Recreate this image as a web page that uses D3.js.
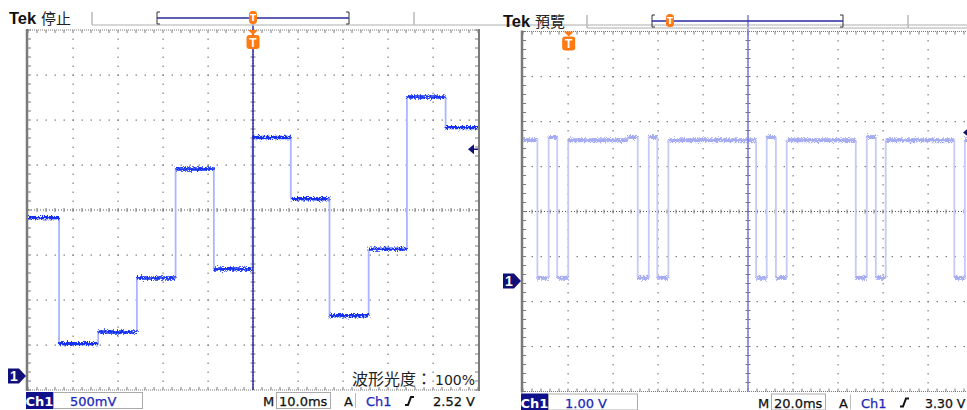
<!DOCTYPE html>
<html><head><meta charset="utf-8">
<script src="https://cdn.jsdelivr.net/npm/d3@7"></script>
<style>
html,body{margin:0;padding:0;background:#fff;overflow:hidden}
svg{display:block}
</style></head>
<body>
<svg id="c" width="967" height="410"></svg>
<script>
// ---------------- DATA ----------------
// Left screen: staircase signal (Ch1 500mV/div, 10.0ms/div), time in ms from screen centre
const leftEdgesMs  = [-43.1, -34.4, -25.8, -17.2, -8.7, -0.1, 8.4, 17.0, 25.7, 34.2, 42.8];
const leftLevelsV  = [1.76, 0.36, 0.49, 1.09, 2.30, 1.19, 2.65, 1.97, 0.67, 1.41, 3.10, 2.76];
const leftTrigV = 2.52;
const leftTrigMs = 0;
// Right screen: digital bursts (Ch1 1.00V/div, 20.0ms/div)
const rightEdgesMs = [-93.6, -88.6, -84.8, -79.9, -53.5, -49.0, -44.1, -40.3, -35.4, 3.6, 8.3, 12.4, 17.2, 47.9, 52.8, 56.8, 61.2, 91.7, 96.4];
const rightLevelsV = [3.13, 0.07, 3.20, 0.07, 3.13, 3.20, 0.07, 3.20, 0.07, 3.13, 0.07, 3.20, 0.07, 3.13, 0.07, 3.20, 0.07, 3.13, 0.07, 3.13];
const rightTrigV = 3.30;
const rightTrigMs = -79.7;
// Readouts
const leftStatus  = {title:"停止", volts:"500mV", time:"10.0ms", trig:"2.52 V"};
const rightStatus = {title:"預覽", volts:"1.00 V", time:"20.0ms", trig:"3.30 V"};
const intensityLabel = "波形光度：", intensityValue = "100%";

// ---------------- DRAW ----------------
const svg = d3.select("#c");
const defs = svg.append("defs");
const flt = defs.append("filter").attr("id","noise").attr("filterUnits","userSpaceOnUse")
  .attr("x",0).attr("y",0).attr("width",967).attr("height",410);
flt.append("feTurbulence").attr("type","fractalNoise").attr("baseFrequency","1.3 0.8").attr("numOctaves",2).attr("seed",5).attr("result","t");
flt.append("feDisplacementMap").attr("in","SourceGraphic").attr("in2","t").attr("scale",6).attr("xChannelSelector","R").attr("yChannelSelector","G");

const CJK = "'Noto Sans CJK TC','Noto Sans CJK SC',sans-serif";
const UI = "'DejaVu Sans',sans-serif";

function panel(o){
  const g = svg.append("g");
  const x = d3.scaleLinear().domain([-5*o.tdiv, 5*o.tdiv]).range([o.x0, o.x1]);
  const y = d3.scaleLinear().domain([(-4 - o.gnd)*o.vdiv, (4 - o.gnd)*o.vdiv]).range([o.y1, o.y0]);
  const cid = "clip"+o.id;
  defs.append("clipPath").attr("id",cid).append("rect").attr("x",o.x0).attr("y",o.y0).attr("width",o.x1-o.x0).attr("height",o.y1-o.y0);
  const gx = d3.range(-5,6).map(i=>x(i*o.tdiv));
  const gy = d3.range(-4,5).map(i=>y((i - o.gnd)*o.vdiv));
  const step = (o.x1-o.x0)/50;
  const dots = g.append("g").attr("fill","#808080");
  gx.slice(1,-1).forEach((px,i)=>{ if(i===4) return;
    d3.range(1,40).forEach(k=>dots.append("rect").attr("x",px-0.5).attr("y",o.y0+k*step-0.5).attr("width",1.2).attr("height",1.5)); });
  gy.slice(1,-1).forEach((py,i)=>{ if(i===3) return;
    d3.range(1,50).forEach(k=>dots.append("rect").attr("x",o.x0+k*step-0.5).attr("y",py-0.5).attr("width",1.5).attr("height",1.2)); });
  const cx = x(0), cy = gy[4];
  g.append("line").attr("x1",o.x0).attr("x2",o.x1).attr("y1",cy).attr("y2",cy).attr("stroke","#555").attr("stroke-dasharray","1,2");
  d3.range(1,50).forEach(k=>g.append("line").attr("x1",o.x0+k*step).attr("x2",o.x0+k*step).attr("y1",cy-2).attr("y2",cy+2).attr("stroke","#777"));
  g.append("line").attr("x1",cx).attr("x2",cx).attr("y1",o.y0).attr("y2",o.y1).attr("stroke","#666").attr("stroke-dasharray","1,2");
  d3.range(1,40).forEach(k=>g.append("line").attr("x1",cx-2.5).attr("x2",cx+2.5).attr("y1",o.y0+k*step).attr("y2",o.y0+k*step).attr("stroke","#777"));
  const fr = g.append("g").attr("stroke","#7a7a7a");
  fr.append("line").attr("x1",o.x0).attr("x2",o.x1).attr("y1",o.y0).attr("y2",o.y0).attr("stroke-dasharray","1,1");
  fr.append("line").attr("x1",o.x0).attr("x2",o.x1).attr("y1",o.y1).attr("y2",o.y1).attr("stroke-dasharray","1,1");
  d3.range(0,51).forEach(k=>{const px=o.x0+k*step;
    fr.append("line").attr("x1",px).attr("x2",px).attr("y1",o.y0).attr("y2",o.y0+3);
    fr.append("line").attr("x1",px).attr("x2",px).attr("y1",o.y1).attr("y2",o.y1-3);});
  d3.range(0,41).forEach(k=>{const py=o.y0+k*step;
    fr.append("line").attr("x1",o.x0).attr("x2",o.x0+3).attr("y1",py).attr("y2",py);
    fr.append("line").attr("x1",o.x1).attr("x2",o.x1-3).attr("y1",py).attr("y2",py);});
  fr.append("line").attr("x1",o.x0-1).attr("x2",o.x0-1).attr("y1",o.y0-1).attr("y2",o.y1+1).attr("stroke-width",2.5);
  fr.append("line").attr("x1",o.x1+1).attr("x2",o.x1+1).attr("y1",o.y0-1).attr("y2",o.y1+1).attr("stroke-width",2);

  // trace
  const tg = g.append("g").attr("clip-path",`url(#${cid})`);
  const bounds = [-5*o.tdiv, ...o.edges, 5*o.tdiv];
  tg.selectAll("line.edge").data(o.edges).join("line").attr("class","edge")
    .attr("x1",d=>x(d)).attr("x2",d=>x(d))
    .attr("y1",(d,i)=>y(o.levels[i])).attr("y2",(d,i)=>y(o.levels[i+1]))
    .attr("stroke",o.edgeColor).attr("stroke-width",1.8);
  const lv = tg.append("g").attr("filter","url(#noise)");
  lv.selectAll("line.h").data(o.levels).join("line").attr("class","h")
    .attr("x1",(d,i)=>x(bounds[i])).attr("x2",(d,i)=>x(bounds[i+1]))
    .attr("y1",d=>y(d)).attr("y2",d=>y(d))
    .attr("stroke",o.levelColor).attr("stroke-width",o.lw);

  g.append("line").attr("x1",cx).attr("x2",cx).attr("y1",o.hy-12).attr("y2",o.y1).attr("stroke",o.posColor).attr("stroke-width",1.4);

  // header
  const h = svg.append("g");
  h.append("text").attr("x",o.tekX).attr("y",o.hy).attr("font-family","'Liberation Sans',Arial,sans-serif").attr("font-weight","bold").attr("font-size",16.5).attr("fill","#111").text("Tek");
  h.append("text").attr("x",o.tekX+32).attr("y",o.hy).attr("font-family",CJK).attr("font-size",15).attr("fill","#222").text(o.status.title);
  h.append("line").attr("x1",o.hl0).attr("x2",967).attr("y1",o.hy+1).attr("y2",o.hy+1).attr("stroke","#c8c8c8").attr("stroke-width",1.5);
  [o.hl0,o.hl1].forEach(px=>h.append("line").attr("x1",px).attr("x2",px).attr("y1",o.hy-12).attr("y2",o.hy+1).attr("stroke","#b8b8b8").attr("stroke-width",1.5));
  h.append("path").attr("d",`M${o.b0+3},${o.hy-12}H${o.b0}V${o.hy}H${o.b0+3}M${o.b1-3},${o.hy-12}H${o.b1}V${o.hy}H${o.b1-3}`).attr("fill","none").attr("stroke","#333").attr("stroke-width",1);
  h.append("line").attr("x1",o.b0).attr("x2",o.b1).attr("y1",o.hy-6).attr("y2",o.hy-6).attr("stroke","#2a2aa0").attr("stroke-width",1.4);
  h.append("rect").attr("x",o.u-4).attr("y",o.hy-13).attr("width",8).attr("height",13).attr("rx",3.5).attr("fill","#ff7a12");
  h.append("text").attr("x",o.u).attr("y",o.hy-3).attr("text-anchor","middle").attr("font-family",UI).attr("font-weight","bold").attr("font-size",9).attr("fill","#fff").text("T");
  const tx = x(o.trigMs), ty = o.y0;
  h.append("path").attr("d",`M${tx-5},${ty}H${tx+5}L${tx},${ty+5}Z`).attr("fill","#ff7a12");
  h.append("rect").attr("x",tx-6.5).attr("y",ty+5).attr("width",13).attr("height",14).attr("rx",3).attr("fill","#ff7a12");
  h.append("text").attr("x",tx).attr("y",ty+16.5).attr("text-anchor","middle").attr("font-family","'Liberation Sans',sans-serif").attr("font-weight","bold").attr("font-size",12).attr("fill","#fff").text("T");

  const gyp = y(0), gxp = o.x0-2;
  h.append("path").attr("d",`M${gxp-18},${gyp-7.5}H${gxp-7}L${gxp},${gyp}L${gxp-7},${gyp+7.5}H${gxp-18}Z`).attr("fill","#101078");
  h.append("text").attr("x",gxp-12).attr("y",gyp+5).attr("text-anchor","middle").attr("font-family","'Liberation Sans',sans-serif").attr("font-weight","bold").attr("font-size",14).attr("fill","#fff").text("1");
  const tly = y(o.trigV), tlx = o.x1-10;
  h.append("path").attr("d",`M${tlx},${tly}L${tlx+6},${tly-5}V${tly+5}Z`).attr("fill","#101078");
  h.append("line").attr("x1",tlx+5).attr("x2",o.x1).attr("y1",tly).attr("y2",tly).attr("stroke","#101078").attr("stroke-width",1.5);

  const sy = o.y1 + 16, sb = svg.append("g").attr("font-family",UI).attr("font-size",13).attr("stroke-width",0.25);
  sb.append("rect").attr("x",o.x0-2).attr("y",o.y1+2).attr("width",27).attr("height",17).attr("fill","#10108a");
  sb.append("text").attr("x",o.x0+11.5).attr("y",sy).attr("text-anchor","middle").attr("font-weight","bold").attr("fill","#fff").text("Ch1");
  sb.append("rect").attr("x",o.x0+25.5).attr("y",o.y1+2.5).attr("width",89).attr("height",16).attr("fill","#fff").attr("stroke","#aaa").attr("stroke-width",1);
  sb.append("text").attr("x",o.x0+42).attr("y",sy).attr("fill","#1c28b8").attr("stroke","#1c28b8").text(o.status.volts);
  sb.append("text").attr("x",o.x0+235).attr("y",sy).attr("fill","#111").attr("stroke","#111").text("M");
  sb.append("rect").attr("x",o.x0+248.5).attr("y",o.y1+2.5).attr("width",54).attr("height",16).attr("fill","#fff").attr("stroke","#aaa").attr("stroke-width",1);
  sb.append("text").attr("x",o.x0+251).attr("y",sy).attr("fill","#111").attr("stroke","#111").text(o.status.time);
  sb.append("text").attr("x",o.x0+316).attr("y",sy).attr("fill","#111").attr("stroke","#111").text("A");
  sb.append("line").attr("x1",o.x0+327.5).attr("x2",o.x0+327.5).attr("y1",o.y1+3).attr("y2",o.y1+18).attr("stroke","#bbb").attr("stroke-width",1);
  sb.append("text").attr("x",o.x0+338).attr("y",sy).attr("fill","#1c28b8").attr("stroke","#1c28b8").text("Ch1");
  const ex = o.x0+377;
  sb.append("path").attr("d",`M${ex},${sy-1}H${ex+3}L${ex+6},${sy-9}H${ex+9}`).attr("fill","none").attr("stroke","#111").attr("stroke-width",2);
  sb.append("text").attr("x",o.x0+o.trigDx).attr("y",sy).attr("fill","#111").attr("stroke","#111").attr("font-size",o.trigFs).text(o.status.trig);
  return {x,y,g};
}

const L = panel({id:"L", x0:28, x1:478, y0:30, y1:390, tdiv:10, vdiv:0.5, gnd:-3.69,
  edges:leftEdgesMs, levels:leftLevelsV, trigV:leftTrigV, trigMs:leftTrigMs,
  levelColor:"#1530f0", edgeColor:"#aab4ff", posColor:"#1e1ea0", status:leftStatus, lw:3.4,
  tekX:9, hy:24, hl0:92, hl1:414, b0:157, b1:349, u:253, trigDx:405, trigFs:13});
const R = panel({id:"R", x0:523, x1:973, y0:31.5, y1:391.5, tdiv:20, vdiv:1.0, gnd:-1.544,
  edges:rightEdgesMs, levels:rightLevelsV, trigV:rightTrigV, trigMs:rightTrigMs,
  levelColor:"#a6acf2", edgeColor:"#c6caf7", posColor:"#7077d4", status:rightStatus, lw:4,
  tekX:503, hy:27, hl0:587, hl1:908, b0:652, b1:843, u:670, trigDx:402, trigFs:12.5});

const it = svg.append("text").attr("x",475).attr("y",385).attr("text-anchor","end").attr("fill","#222");
it.append("tspan").attr("font-family",CJK).attr("font-size",16).text(intensityLabel);
it.append("tspan").attr("font-family",UI).attr("font-size",14).attr("dx",3).text(intensityValue);
</script>
</body></html>
